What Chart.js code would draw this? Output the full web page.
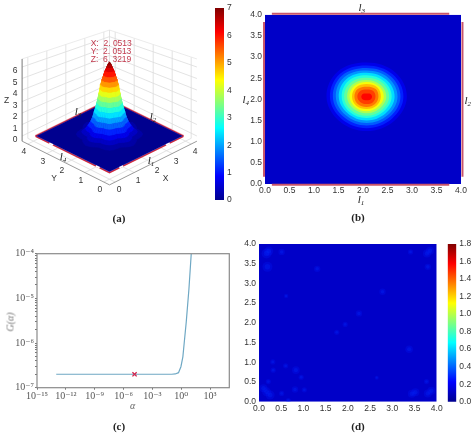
<!DOCTYPE html>
<html><head><meta charset="utf-8">
<script src="https://cdn.jsdelivr.net/npm/chart.js@4/dist/chart.umd.min.js"></script>
<style>
html,body{margin:0;padding:0;background:#fff;width:474px;height:434px;overflow:hidden}
canvas{position:absolute;filter:blur(0.35px)}
.t{position:absolute;transform:translate(-50%,-50%);white-space:pre;font:8.5px "Liberation Sans",sans-serif;color:#333;z-index:5;line-height:1;filter:blur(0.25px)}
.l{font:italic 11px "Liberation Serif",serif;color:#222}
.l sub{font-size:7px;vertical-align:-2px;line-height:0}
.c{font:bold 11px "Liberation Serif",serif;color:#222}
.a{font:8.5px "Liberation Sans",sans-serif;color:#c23a4e;transform:translate(0,-50%)}
</style></head><body>
<script>
// ---------- panel (a) surface: radial height profile ----------
const profileRadius=[0,0.03,0.06,0.10,0.16,0.22,0.28,0.32,0.355,0.39,0.425,0.465,0.51,0.56,0.61,0.68,0.78,0.88,1.02,1.20];
const profileHeight=[6.32,6.25,6.10,5.90,5.60,5.20,4.80,4.40,4.00,3.60,3.20,2.80,2.40,2.00,1.60,1.20,0.80,0.50,0.25,0.08];
const surfacePeak=6.32;
const lobePattern=[1.03,1.00,0.95,0.90,0.95,1.00];
const peakCentre=[2.05,2.05];
const surfaceRange=[0.08,3.92];
const boxX=[-0.3,4.3], boxY=[-0.3,4.3], boxZ=[-0.45,6.7];
const axisTicksXY=[0,1,2,3,4];
const axisTicksZ=[0,1,2,3,4,5,6];
const cursorText=["X:  2. 0513","Y:  2. 0513","Z:  6. 3219"];
// ---------- panel (b) contours: radii in 8 directions (E,NE,N,NW,W,SW,S,SE) ----------
const contourCentre=[2.075,2.06];
const contourValues=[0.7,1.1,1.5,1.9,2.4,2.9,3.3,3.8,4.3,4.8,5.3,5.7,6.1];
const contourRadii=[
 [0.82,0.82,0.81,0.84,0.82,0.80,0.81,0.80],
 [0.75,0.75,0.74,0.77,0.75,0.73,0.74,0.73],
 [0.69,0.69,0.68,0.71,0.69,0.67,0.68,0.67],
 [0.63,0.63,0.62,0.65,0.63,0.61,0.62,0.61],
 [0.57,0.57,0.57,0.59,0.57,0.55,0.56,0.55],
 [0.51,0.51,0.51,0.53,0.51,0.50,0.50,0.49],
 [0.46,0.46,0.45,0.47,0.46,0.45,0.45,0.44],
 [0.40,0.40,0.40,0.41,0.40,0.39,0.39,0.38],
 [0.35,0.35,0.35,0.36,0.35,0.34,0.34,0.33],
 [0.29,0.31,0.30,0.31,0.30,0.30,0.29,0.29],
 [0.24,0.26,0.24,0.26,0.25,0.25,0.24,0.24],
 [0.18,0.19,0.17,0.19,0.19,0.18,0.17,0.18],
 [0.11,0.10,0.08,0.10,0.11,0.10,0.08,0.10]
];
const fieldBlue="#0000c8";
const borderTopBottomX=[0.14,3.76], borderLeftRightY=[0.17,3.83];
const axis04=[0,0.5,1,1.5,2,2.5,3,3.5,4];
// ---------- panel (c) ----------
const alphaValues=[1e-13,1e-11,1e-9,1e-7,1e-5,1e-3,1e-2,0.1,0.24,0.52,0.93,1.48,2.04,3.3,6.3,11];
const gValues=[2e-7,2e-7,2e-7,2e-7,2e-7,2e-7,2e-7,2e-7,2.03e-7,2.17e-7,2.95e-7,4.9e-7,1e-6,2.9e-6,1.6e-5,1e-4];
const chosenAlpha=[1.4e-5], chosenG=[2e-7];
const xExponents=[-15,-12,-9,-6,-3,0,3];
const yExponents=[-7,-6,-5,-4];
const superDigits={"-":"⁻","0":"⁰","1":"¹","2":"²","3":"³","4":"⁴","5":"⁵","6":"⁶","7":"⁷","8":"⁸","9":"⁹"};
// ---------- panel (d) error blotches: x, y, radius ----------
const blotX=[0.17,0.22,0.19,0.51,1.31,0.61,2.78,2.25,1.94,1.75,3.38,3.80,3.85,3.78,3.41,0.17,0.10,0.25,0.31,0.32,0.60,0.83,0.95,0.21,0.81,1.02,0.51,2.65,3.77,3.44,3.52,3.80,3.88,0.66];
const blotY=[3.76,3.82,3.42,3.80,3.37,2.68,2.79,2.24,1.96,1.76,1.33,3.42,3.83,3.76,3.80,0.25,0.34,0.17,1.01,0.80,0.91,0.80,0.62,0.51,0.31,0.30,0.21,0.61,0.51,0.20,0.24,0.21,0.28,0.03];
const blotR=[5,4.5,5,3.2,3.2,2.2,3.2,3.2,2.6,2.6,3.8,3.2,4,4,2.6,4.5,4,4.5,2.6,2.6,2.6,3.8,2.6,2.6,3.2,2.6,2.6,2,2.6,4,4,4,4,2.6];
// ---------- colour bars ----------
const jetStops=[[0,"#00008f"],[0.125,"#0000ff"],[0.375,"#00ffff"],[0.625,"#ffff00"],[0.875,"#ff0000"],[1,"#800000"]];
const bar1Range=[0,7], bar2Range=[0,1.8];

// ---------- helpers ----------
function jet(v){v=Math.max(0,Math.min(1,v));
 for(let i=1;i<jetStops.length;i++){ if(v<=jetStops[i][0]){
  const a=jetStops[i-1],b=jetStops[i],f=(v-a[0])/(b[0]-a[0]);
  const p=h=>[1,3,5].map(k=>parseInt(h.substr(k,2),16)),A=p(a[1]),B=p(b[1]);
  return "rgb("+A.map((c,k)=>Math.round(c+(B[k]-c)*f)).join(",")+")";}}
 return jetStops[5][1];}
function mk(l,t,w,h){const c=document.createElement("canvas");c.style.left=l+"px";c.style.top=t+"px";c.style.width=w+"px";c.style.height=h+"px";c.width=w;c.height=h;document.body.appendChild(c);return c;}
function txt(s,x,y,cls,extra){const e=document.createElement("div");e.className="t "+(cls||"");e.style.left=x+"px";e.style.top=y+"px";e.innerHTML=s;if(extra)e.style.cssText+=extra;document.body.appendChild(e);}
const base={responsive:false,animation:false,events:[],plugins:{legend:{display:false},tooltip:{enabled:false}}};
function pad(l,t,r,b){return {padding:{left:l,top:t,right:r,bottom:b}};}
const FONT={family:"'Liberation Sans',sans-serif",size:8.5};
const fix=(k,v)=>s=>{s[k]=v;};
const NOGRID={display:false,drawTicks:false};

// ---------- (a) ----------
function proj(x,y,z){const s=x+y;return {x:109.5+19*(x-y),y:173.2-9.3*s-11.5*z+0.45*z*(s-4)};}
let paint=[];
function seg(pts,color,w,dash){paint.push({type:"line",data:pts,showLine:true,pointRadius:0,borderColor:color,borderWidth:w,borderDash:dash||[],fill:false,tension:0});}
function poly(pts,color,bw){paint.push({type:"line",data:pts,showLine:true,pointRadius:0,borderColor:color,backgroundColor:color,borderWidth:bw,fill:"shape",tension:0});}
const [X0,X1]=boxX,[Y0,Y1]=boxY,[Z0,Z1]=boxZ,GR="#dcdcdc",AX="#9a9a9a";
axisTicksZ.forEach(z=>{seg([proj(X0,Y1,z),proj(X1,Y1,z)],GR,.8);seg([proj(X1,Y1,z),proj(X1,Y0,z)],GR,.8);});
axisTicksXY.forEach(t=>{
 seg([proj(t,Y1,Z0),proj(t,Y1,Z1)],GR,.8);seg([proj(X1,t,Z0),proj(X1,t,Z1)],GR,.8);
 seg([proj(t,Y0,Z0),proj(t,Y1,Z0)],GR,.8);seg([proj(X0,t,Z0),proj(X1,t,Z0)],GR,.8);});
seg([proj(X0,Y1,Z1),proj(X1,Y1,Z1),proj(X1,Y0,Z1)],"#e6e6e6",.8);
seg([proj(X1,Y1,Z0),proj(X1,Y1,Z1)],GR,.8);
seg([proj(X0,Y1,Z0),proj(X0,Y0,Z0),proj(X1,Y0,Z0)],AX,1);
seg([proj(X0,Y1,Z0),proj(X0,Y1,Z1)],"#777",1);
const [S0,S1]=surfaceRange;
const RED="#d2283c";
seg([proj(S0-.03,S1+.03,0),proj(S1+.03,S1+.03,0),proj(S1+.03,S0-.03,0)],"#f0b8c0",2.4);
seg([proj(S0-.03,S1+.03,0),proj(S1+.03,S1+.03,0),proj(S1+.03,S0-.03,0)],RED,1.3);
seg([proj(S0-.05,S1,0),proj(S0-.05,S0-.05,0),proj(S1,S0-.05,0)],RED,1.4);
poly([proj(S0,S0,0),proj(S1,S0,0),proj(S1,S1,0),proj(S0,S1,0),proj(S0,S0,0)],"#00008f",.4);
// white gaps along the near red edges
[[[S0-.05,3.2],[S0-.05,3.0]],[[S0-.05,0.75],[S0-.05,0.55]],[[0.75,S0-.05],[0.55,S0-.05]],[[3.2,S0-.05],[3.0,S0-.05]]].forEach(g=>seg([proj(g[0][0],g[0][1],0),proj(g[1][0],g[1][1],0)],"#ffffff",1.6));
const N=48,R=profileRadius.length,quads=[];
const dir=[],sinc=[]; for(let j=0;j<=N;j++){const a=j/N*2*Math.PI;dir.push(Math.cos(a));sinc.push(Math.sin(a));}
function surfPt(i,j){const z=profileHeight[i],w=1-z/profileHeight[0],m=1+(lobePattern[j%6]-1)*w;
 const r=profileRadius[i]*m;return [peakCentre[0]+r*dir[j],peakCentre[1]+r*sinc[j],z];}
for(let i=0;i<R-1;i++)for(let j=0;j<N;j++){
 const c=[surfPt(i,j),surfPt(i,j+1),surfPt(i+1,j+1),surfPt(i+1,j)];
 quads.push({c,depth:c.reduce((s,p)=>s+p[0]+p[1],0)/4,z:(profileHeight[i]+profileHeight[i+1])/2});}
quads.sort((a,b)=>b.depth-a.depth);
quads.forEach(q=>{const pts=q.c.map(p=>proj(p[0],p[1],p[2]));pts.push(pts[0]);poly(pts,jet(q.z/surfacePeak),.5);});
paint.forEach((d,i)=>d.order=-i);
new Chart(mk(0,0,205,215),{type:"scatter",data:{datasets:paint},options:{...base,parsing:true,layout:pad(0,0,0,0),
 scales:{x:{type:"linear",display:false,min:0,max:205},y:{type:"linear",display:false,min:0,max:215,reverse:true}}}});
axisTicksXY.forEach(t=>{const px=proj(t,Y0,Z0);txt(String(t),px.x+4,px.y+7);const py=proj(X0,t,Z0);txt(String(t),py.x-4,py.y+7);});
axisTicksZ.forEach(z=>{const p=proj(X0,Y1,z);txt(String(z),p.x-7,p.y+3);});
txt("Z",6.7,100);txt("Y",54,177.7);txt("X",165.7,177.7);
cursorText.forEach((s,i)=>txt(s,90.7,42.7+i*8.3,"a"));
txt("l<sub>3</sub>",78,111,"l");txt("l<sub>2</sub>",153,116,"l");txt("l<sub>4</sub>",63,156,"l");txt("l<sub>1</sub>",151,160,"l");

// ---------- colour bars ----------
function colorbar(l,t,w,h,L,T,R2,B,range,step,fmt){
 new Chart(mk(l,t,w,h),{type:"bar",data:{labels:[""],datasets:[{data:[range],barPercentage:1,categoryPercentage:1,
  backgroundColor:c=>{const a=c.chart.chartArea;if(!a)return "#000";const g=c.chart.ctx.createLinearGradient(0,a.bottom,0,a.top);jetStops.forEach(s=>g.addColorStop(s[0],s[1]));return g;}}]},
  options:{...base,layout:pad(L,T,0,B),scales:{x:{display:false},
   y:{position:"right",min:range[0],max:range[1],afterFit:fix("width",R2),grid:NOGRID,border:{display:false},
    ticks:{stepSize:step,padding:3,color:"#333",font:FONT,callback:fmt}}}}});}
colorbar(205,0,34,212,10,6.7,15,12,bar1Range,1,v=>String(v));
colorbar(438,230,36,182,9.7,14,17.7,10.3,bar2Range,0.2,v=>v.toFixed(1));

// ---------- (b) ----------
const tick04=v=>axis04.includes(v)?v.toFixed(1):"";
function xy04(L,B){return {
 x:{type:"linear",min:0,max:4,afterFit:fix("height",B),grid:NOGRID,border:{display:false},afterBuildTicks:s=>{s.ticks=axis04.map(v=>({value:v}));},ticks:{padding:2,maxRotation:0,autoSkip:false,color:"#333",font:FONT,callback:tick04}},
 y:{type:"linear",min:0,max:4,afterFit:fix("width",L),grid:NOGRID,border:{display:false},afterBuildTicks:s=>{s.ticks=axis04.map(v=>({value:v}));},ticks:{padding:3,autoSkip:false,color:"#333",font:FONT,callback:tick04}}};}
let ds=[];
ds.push({type:"line",data:[{x:0,y:0},{x:4,y:0},{x:4,y:4},{x:0,y:4},{x:0,y:0}],showLine:true,pointRadius:0,borderWidth:0,backgroundColor:fieldBlue,fill:"shape",tension:0});
const wrapIdx=[7,0,1,2,3,4,5,6,7,0,1];
contourRadii.forEach((rad,i)=>{const pts=wrapIdx.map(k=>{const a=k*Math.PI/4,r=rad[k];return {x:contourCentre[0]+r*Math.cos(a),y:contourCentre[1]+r*Math.sin(a)};});
 ds.push({type:"line",data:pts,showLine:true,pointRadius:0,borderWidth:0,backgroundColor:jet(contourValues[i]/7),fill:"shape",tension:0.38});});
const BC="#c8556a";
[[[borderTopBottomX[0],4.02],[borderTopBottomX[1],4.02]],[[borderTopBottomX[0],-0.02],[borderTopBottomX[1],-0.02]],[[-0.02,borderLeftRightY[0]],[-0.02,borderLeftRightY[1]]],[[4.03,borderLeftRightY[0]],[4.03,borderLeftRightY[1]]]].forEach(s=>{
 ds.push({type:"line",data:s.map(p=>({x:p[0],y:p[1]})),showLine:true,pointRadius:0,borderWidth:2,borderColor:BC,fill:false,clip:4});});
ds.forEach((d,i)=>d.order=-i);
new Chart(mk(235,0,239,210),{type:"scatter",data:{datasets:ds},options:{...base,layout:pad(0,14.7,13,0),scales:xy04(30,26)}});
txt("l<sub>3</sub>",361.7,7,"l");txt("l<sub>1</sub>",361,199,"l");txt("l<sub>4</sub>",245.7,99,"l");txt("l<sub>2</sub>",467.7,100,"l");

// ---------- (c) ----------
const sup=e=>"10"+String(e).split("").map(ch=>superDigits[ch]).join("");
const SER={family:"'Liberation Serif','DejaVu Serif',serif",size:10};
const minorY=[];yExponents.slice(0,-1).forEach(e=>{[2,3,4,5,6,7,8,9].forEach(m=>minorY.push(Number(m+"e"+e)));});
const frame={id:"frame",afterDatasetsDraw(ch){const a=ch.chartArea,c=ch.ctx;c.save();c.strokeStyle="#8a8a8a";c.lineWidth=1.2;c.strokeRect(a.left,a.top,a.width,a.height);c.restore();}};
new Chart(mk(0,235,236,175),{type:"scatter",plugins:[frame],data:{datasets:[
 {type:"scatter",data:chosenAlpha.map((a,i)=>({x:a,y:chosenG[i]})),pointStyle:"crossRot",pointRadius:3,borderColor:"#d02850",borderWidth:1.4,order:-1},
 {type:"line",data:alphaValues.map((a,i)=>({x:a,y:gValues[i]})),showLine:true,pointRadius:0,borderColor:"#6fa8c4",borderWidth:1.2,tension:0,order:0}]},
 options:{...base,layout:pad(0,18.7,6.7,0),scales:{
  x:{type:"logarithmic",min:1e-15,max:1e5,afterFit:fix("height",22.3),grid:{display:true,drawOnChartArea:false,drawTicks:true,tickLength:2,color:"#777"},border:{display:false},
   afterBuildTicks:s=>{s.ticks=xExponents.map(e=>({value:Number("1e"+e)}));},
   ticks:{autoSkip:false,maxRotation:0,padding:1,color:"#555",font:SER,callback:v=>sup(Math.round(Math.log10(v)))}},
  y:{type:"logarithmic",min:1e-7,max:1e-4,afterFit:fix("width",37),grid:{display:true,drawOnChartArea:false,tickLength:2,color:"#777"},border:{display:false},
   afterBuildTicks:s=>{s.ticks=yExponents.map(e=>({value:Number("1e"+e)})).concat(minorY.map(v=>({value:v})));},
   ticks:{autoSkip:false,padding:1,color:"#555",font:SER,callback:v=>{const e=Math.log10(v);return Math.abs(e-Math.round(e))<1e-6?sup(Math.round(e)):"";}}}},
  }});
txt("G(α)",10,321.7,"",'font:italic 10px "Liberation Serif",serif;color:#777;transform:translate(-50%,-50%) rotate(-90deg)');
txt("α",132.7,405,"",'font:italic 10px "Liberation Serif",serif;color:#666');

// ---------- (d) ----------
const bx=blotX.map((x,i)=>({x,y:blotY[i],r:blotR[i]}));
const bx2=blotX.map((x,i)=>({x,y:blotY[i],r:blotR[i]*0.55}));
new Chart(mk(235,225,215,190),{type:"bubble",data:{datasets:[
 {type:"bubble",data:bx2,backgroundColor:"rgba(0,50,255,.26)",borderWidth:0,order:-3},
 {type:"bubble",data:bx,backgroundColor:"rgba(0,30,255,.24)",borderWidth:0,order:-2},
 {type:"line",data:[{x:0,y:0},{x:4,y:0},{x:4,y:4},{x:0,y:4},{x:0,y:0}],showLine:true,pointRadius:0,borderWidth:0,backgroundColor:fieldBlue,fill:"shape",tension:0,order:-1}]},
 options:{...base,layout:pad(0,19,13.3,0),scales:xy04(24,13.3)}});

// ---------- captions ----------
txt("(a)",119,218,"c");txt("(b)",358,217,"c");txt("(c)",119,425.7,"c");txt("(d)",358,425.7,"c");
</script></body></html>
